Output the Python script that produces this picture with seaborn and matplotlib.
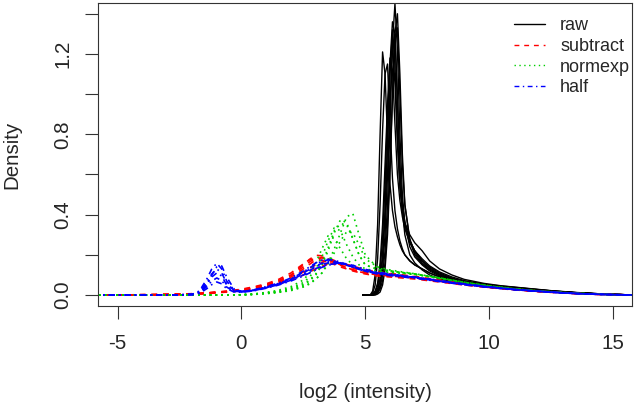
import numpy as np
import pandas as pd
import matplotlib
matplotlib.use("Agg")
from matplotlib import pyplot as plt
from matplotlib.lines import Line2D
import seaborn as sns

# density curves, one list per array
raw_x = [4.9, 5.2, 5.3, 5.4, 5.5, 5.6, 5.7, 5.8, 5.9, 6.0, 6.1, 6.2, 6.3, 6.4, 6.5,
         6.6, 6.8, 7.0, 7.3, 7.6, 8.0, 8.5, 9.0, 9.8, 10.5, 11.5, 12.5, 13.5, 14.5, 15.9]
raw_curves = [
    [0, 0, .02, .1, .35, .8, 1.21, 1.1, .78, .55, .42, .34, .29, .25, .22, .2, .17, .15, .13, .11,
     .09, .075, .062, .047, .04, .03, .019, .011, .005, 0],
    [0, 0, .01, .05, .18, .45, .82, 1.1, 1.15, .85, .58, .42, .33, .27, .23, .2, .17, .15, .13, .11,
     .09, .075, .062, .047, .04, .03, .019, .011, .005, 0],
    [0, 0, 0, .005, .015, .04, .1, .22, .45, .85, 1.25, 1.45, 1.22, .8, .5, .36, .24, .19, .15, .12,
     .095, .075, .062, .048, .04, .03, .019, .011, .005, 0],
    [0, 0, 0, .003, .01, .03, .07, .16, .35, .65, 1.0, 1.3, 1.4, 1.1, .7, .45, .27, .2, .155, .125,
     .1, .08, .064, .049, .041, .03, .019, .011, .005, 0],
    [0, 0, .003, .01, .03, .08, .2, .42, .75, 1.1, 1.32, 1.15, .8, .55, .42, .35, .27, .22, .17, .14,
     .11, .085, .068, .052, .043, .032, .021, .012, .006, 0],
    [0, 0, 0, 0, .005, .015, .05, .13, .3, .6, .98, 1.28, 1.33, 1.0, .65, .45, .28, .21, .16, .13,
     .1, .08, .064, .049, .04, .03, .019, .011, .005, 0],
    [0, 0, .005, .015, .045, .12, .28, .55, .9, 1.15, 1.25, 1.05, .75, .53, .42, .36, .3, .26, .22, .17,
     .13, .1, .078, .058, .046, .034, .022, .013, .006, 0],
    [0, 0, 0, .005, .015, .05, .13, .3, .6, .95, 1.22, 1.3, 1.0, .65, .42, .3, .2, .16, .125, .1,
     .08, .066, .055, .043, .036, .027, .017, .01, .005, 0],
    [0, 0, .002, .008, .025, .07, .18, .4, .75, 1.15, 1.36, 1.3, .95, .62, .45, .36, .27, .22, .17, .135,
     .105, .082, .065, .05, .042, .031, .02, .012, .005, 0],
    [0, 0, .005, .02, .06, .16, .35, .65, .95, 1.18, 1.12, .85, .6, .47, .39, .33, .26, .22, .18, .145,
     .115, .09, .072, .054, .045, .033, .021, .012, .006, 0],
]

bg_x = [-6.0, -4.5, -3.5, -2.5, -2.0, -1.7, -1.4, -1.2, -1.0, -0.8, -0.6, -0.3, 0.0, 0.5, 1.0,
        1.5, 2.0, 2.5, 2.75, 3.0, 3.25, 3.5, 3.75, 4.0, 4.25, 4.5, 4.75, 5.0, 5.5, 6.0, 6.5,
        7.0, 8.0, 9.0, 10.0, 11.0, 12.0, 13.0, 14.0, 15.0, 16.0]
subtract_curves = [
    [0, .001, .002, .004, .006, .008, .01, .012, .014, .016, .018, .022, .027, .038, .052, .072, .1,
     .15, .178, .198, .195, .18, .165, .15, .137, .125, .116, .11, .1, .095, .09, .085, .068, .052,
     .038, .027, .018, .011, .005, .002, 0],
    [0, .001, .002, .003, .005, .007, .009, .011, .013, .015, .017, .02, .024, .034, .047, .065, .09,
     .13, .153, .175, .188, .185, .172, .16, .147, .135, .124, .115, .105, .1, .094, .088, .07, .054,
     .04, .028, .019, .011, .005, .002, 0],
    [0, .001, .002, .003, .005, .006, .008, .01, .012, .014, .016, .019, .022, .031, .043, .06, .082,
     .115, .133, .15, .163, .17, .167, .16, .15, .14, .13, .12, .11, .105, .098, .09, .072, .055,
     .041, .029, .019, .011, .005, .002, 0],
    [0, .001, .002, .004, .007, .009, .011, .013, .015, .017, .019, .024, .029, .041, .056, .078, .11,
     .155, .175, .18, .172, .165, .152, .14, .13, .12, .112, .105, .095, .09, .085, .08, .065, .05,
     .037, .026, .017, .01, .005, .002, 0],
    [0, .001, .001, .003, .004, .006, .007, .009, .011, .013, .015, .018, .021, .029, .04, .055, .075,
     .1, .115, .13, .143, .155, .16, .158, .152, .145, .135, .125, .115, .108, .1, .093, .075, .058,
     .043, .03, .02, .012, .006, .002, 0],
    [0, .001, .002, .004, .006, .008, .01, .012, .014, .016, .018, .021, .025, .036, .05, .07, .097,
     .14, .165, .182, .185, .175, .16, .148, .136, .125, .117, .11, .102, .097, .092, .087, .069, .053,
     .039, .028, .018, .011, .005, .002, 0],
]
normexp_curves = [
    [0, 0, 0, 0, 0, 0, 0, 0, 0, 0, 0, 0, .001, .003, .007, .013, .022, .04, .055, .078, .11, .16,
     .23, .31, .39, .405, .3, .2, .135, .12, .112, .105, .085, .063, .045, .031, .02, .012, .006, .002, 0],
    [0, 0, 0, 0, 0, 0, 0, 0, 0, 0, 0, 0, .001, .004, .009, .016, .028, .05, .07, .1, .15, .22,
     .31, .375, .36, .28, .2, .15, .128, .12, .112, .105, .085, .063, .045, .031, .02, .012, .006, .002, 0],
    [0, 0, 0, 0, 0, 0, 0, 0, 0, 0, 0, 0, .001, .005, .011, .02, .035, .062, .09, .13, .19, .27,
     .335, .32, .25, .19, .15, .13, .12, .115, .11, .104, .084, .062, .045, .031, .02, .012, .006, .002, 0],
    [0, 0, 0, 0, 0, 0, 0, 0, 0, 0, 0, 0, .002, .006, .013, .024, .042, .075, .11, .16, .23, .295,
     .28, .23, .18, .15, .13, .12, .115, .112, .108, .102, .082, .061, .044, .03, .02, .012, .006, .002, 0],
    [0, 0, 0, 0, 0, 0, 0, 0, 0, 0, 0, 0, .001, .004, .009, .017, .03, .053, .075, .105, .155, .235,
     .32, .355, .35, .28, .2, .15, .128, .12, .112, .105, .085, .063, .045, .031, .02, .012, .006, .002, 0],
    [0, 0, 0, 0, 0, 0, 0, 0, 0, 0, 0, 0, .001, .003, .008, .014, .024, .043, .058, .08, .11, .155,
     .21, .27, .315, .31, .25, .18, .14, .125, .115, .106, .086, .064, .046, .032, .021, .012, .006, .002, 0],
]
half_curves = [
    [0, 0, 0, .001, .004, .02, .08, .13, .158, .13, .07, .025, .018, .025, .04, .058, .08, .115, .135,
     .155, .168, .175, .17, .16, .15, .14, .13, .12, .105, .098, .092, .086, .068, .052, .038, .027,
     .018, .01, .005, .002, 0],
    [0, 0, 0, .001, .003, .016, .065, .105, .13, .11, .06, .022, .017, .024, .038, .055, .078, .11, .128,
     .145, .158, .168, .165, .16, .15, .14, .13, .12, .108, .1, .094, .088, .07, .054, .04, .028,
     .019, .011, .005, .002, 0],
    [0, 0, 0, .001, .003, .014, .055, .09, .11, .095, .05, .02, .016, .023, .037, .053, .075, .105, .122,
     .14, .152, .16, .162, .158, .15, .142, .132, .122, .11, .102, .095, .088, .07, .054, .04, .028,
     .019, .011, .005, .002, 0],
    [0, 0, 0, .001, .002, .011, .042, .07, .085, .072, .04, .017, .015, .022, .036, .052, .074, .1, .116,
     .132, .143, .152, .155, .155, .148, .14, .131, .122, .11, .102, .095, .088, .07, .054, .04, .028,
     .019, .011, .005, .002, 0],
    [0, 0, 0, .001, .002, .008, .032, .052, .065, .056, .032, .015, .014, .021, .034, .05, .07, .095, .11,
     .125, .138, .148, .156, .16, .155, .148, .138, .128, .114, .105, .097, .09, .072, .056, .041, .029,
     .019, .011, .005, .002, 0],
    [0, 0, 0, .001, .003, .012, .05, .1, .14, .145, .09, .03, .019, .026, .042, .06, .085, .12, .14,
     .16, .174, .178, .172, .165, .152, .14, .128, .118, .105, .097, .09, .084, .067, .051, .038, .027,
     .018, .01, .005, .002, 0],
]

methods = ["raw", "subtract", "normexp", "half"]
colors = {"raw": "black", "subtract": "#ff0000", "normexp": "#00d000", "half": "#0000ff"}
styles = {"raw": "-", "subtract": (0, (3.5, 3.5)), "normexp": (0, (1, 2.5)), "half": (0, (3.5, 2.5, 1, 2.5))}
widths = {"raw": 1.0, "subtract": 1.2, "normexp": 1.2, "half": 1.2}


def to_long(grid, curves, method):
    frames = []
    for i, vals in enumerate(curves):
        frames.append(pd.DataFrame({"x": grid, "density": vals,
                                    "array": f"{method}{i}", "method": method}))
    return pd.concat(frames, ignore_index=True)


df = pd.concat([to_long(raw_x, raw_curves, "raw"),
                to_long(bg_x, subtract_curves, "subtract"),
                to_long(bg_x, normexp_curves, "normexp"),
                to_long(bg_x, half_curves, "half")], ignore_index=True)

sns.set_style("ticks")
plt.rcParams["font.family"] = ["Liberation Sans", "DejaVu Sans"]

W, H = 639, 407
fig = plt.figure(figsize=(W / 100, H / 100), dpi=100)
L, R, T, B = 97.7, 632.3, 3.3, 305.7
ax = fig.add_axes([L / W, 1 - B / H, (R - L) / W, (B - T) / H])

for m in methods:
    sns.lineplot(data=df[df["method"] == m], x="x", y="density", units="array",
                 estimator=None, sort=False, color=colors[m], linestyle=styles[m],
                 linewidth=widths[m], ax=ax, legend=False)

ax.set_xlim(-5.81, 15.79)
ax.set_ylim(-0.053, 1.452)
ax.set_xticks([-5, 0, 5, 10, 15])
ax.set_xticklabels(["-5", "0", "5", "10", "15"])
ax.set_yticks([0, 0.2, 0.4, 0.6, 0.8, 1.0, 1.2, 1.4])
ax.set_yticklabels(["0.0", "", "0.4", "", "0.8", "", "1.2", ""], rotation=90, va="center")
ax.tick_params(axis="both", length=9.5, width=0.8, color="#333333", labelsize=14.8)
ax.tick_params(axis="x", pad=11)
ax.tick_params(axis="y", pad=9)
for s in ax.spines.values():
    s.set_linewidth(0.8)
    s.set_color("#333333")

ax.set_xlabel("log2 (intensity)", fontsize=14.8, va="center")
ax.set_ylabel("Density", fontsize=14.8, va="center")
ax.xaxis.set_label_coords(0.5, (B - 392) / (B - T))
ax.yaxis.set_label_coords((12 - L) / (R - L), 0.5)

handles = [Line2D([], [], color=colors[m], linestyle=styles[m], linewidth=1.0) for m in methods]
ax.legend(handles, methods, loc="upper left", bbox_to_anchor=(514 / W, 1 - 17.5 / H),
          bbox_transform=fig.transFigure, frameon=False, fontsize=13,
          handlelength=1.7, handletextpad=0.85, labelspacing=0.2,
          borderpad=0, borderaxespad=0)

fig.savefig("out.png", dpi=100)
